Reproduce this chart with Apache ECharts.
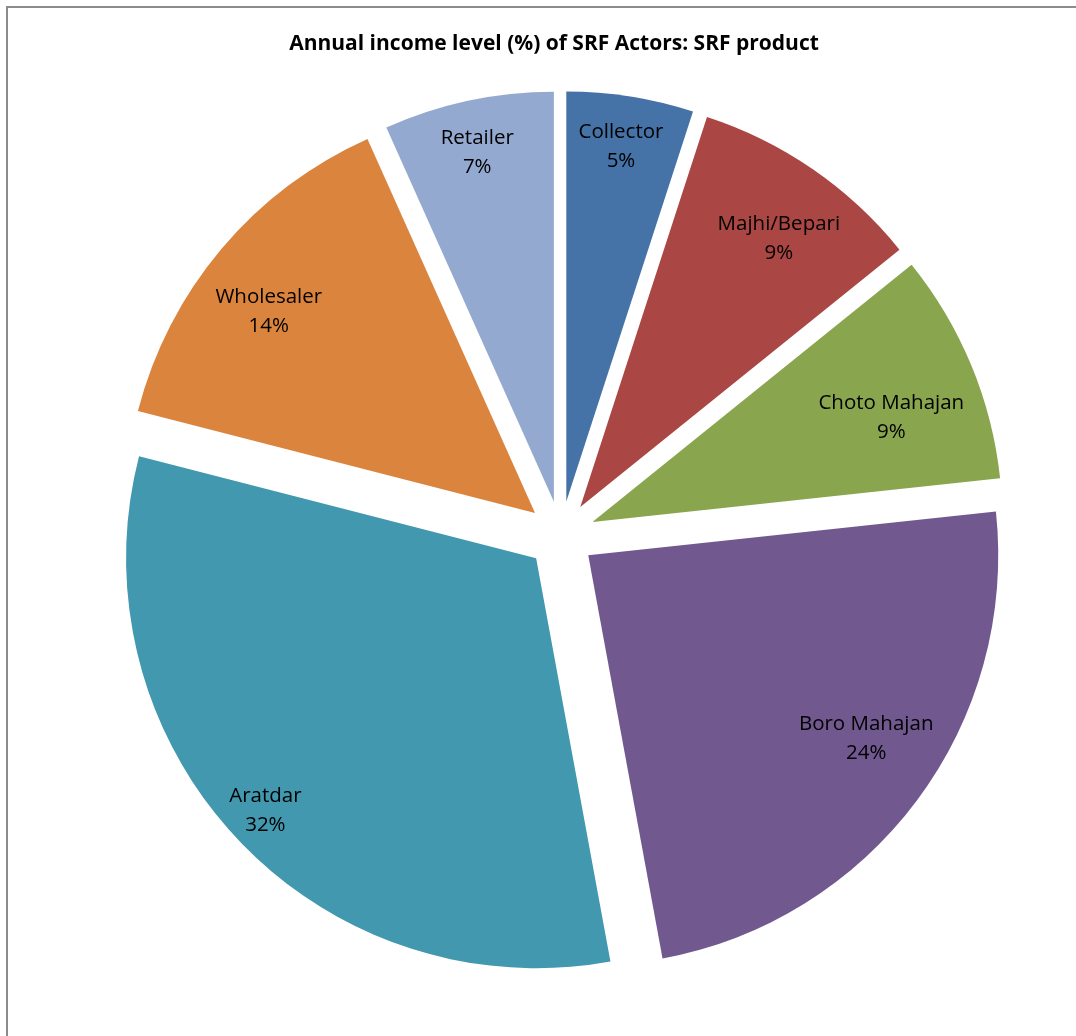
<!DOCTYPE html>
<html><head><meta charset="utf-8">
<script src="https://cdn.jsdelivr.net/npm/echarts@6/dist/echarts.min.js"></script>
<style>html,body{margin:0;padding:0;background:#fff}#c{width:1076px;height:1036px}</style>
</head><body><div id="c"></div>
<script>
const categories = ['Collector','Majhi/Bepari','Choto Mahajan','Boro Mahajan','Aratdar','Wholesaler','Retailer'];
const values = [5.0, 9.2, 9.1, 23.8, 31.9, 14.3, 6.7];
const colors = ['#4572A7','#AA4643','#89A54E','#71588F','#4198AF','#DB843D','#93A9CF'];
const titleText = 'Annual income level (%) of SRF Actors: SRF product';

const chart = echarts.init(document.getElementById('c'), null, {renderer:'canvas'});
// Excel "best fit" label placement differs slightly per slice
const labelShift = {
  'Collector':[1,-16], 'Majhi/Bepari':[4,14], 'Choto Mahajan':[-18,27], 'Boro Mahajan':[3,-22],
  'Aratdar':[-20,18], 'Wholesaler':[-4,20], 'Retailer':[-5,-14]
};
const mk = (withColor) => categories.map((n,i)=>{
  const item = {name:n, value:values[i], selected:true,
    itemStyle:{color: withColor ? colors[i] : 'rgba(0,0,0,0)', borderWidth:0}};
  if(!withColor){ item.label = {offset: labelShift[n]}; item.select = {label:{offset: labelShift[n]}}; }
  return item;
});
const common = {
  type:'pie', center:[561,535], startAngle:90, clockwise:true,
  selectedMode:'multiple', selectedOffset:34, animation:false,
  emphasis:{disabled:true}, percentPrecision:0, labelLine:{show:false}
};
chart.setOption({
  animation:false,
  title:{text:titleText, left:549, top:29, textAlign:'center',
    textStyle:{fontFamily:'Open Sans', fontWeight:'bold', fontSize:21, color:'#000'}},
  graphic:[{type:'rect', shape:{x:7,y:7,width:1200,height:1200}, style:{fill:'none', stroke:'#8c8c8c', lineWidth:2}, silent:true}],
  series:[
    Object.assign({}, common, {
      radius:[0,410], data:mk(true), label:{show:false},
      select:{itemStyle:{borderWidth:0}, label:{show:false}}
    }),
    Object.assign({}, common, {
      radius:[270,410], data:mk(false), silent:true,
      label:{show:true, position:'inside', formatter:'{b}\n{d}%', color:'#000',
        fontFamily:'Open Sans', fontSize:20.5, lineHeight:29},
      select:{itemStyle:{borderWidth:0, color:'rgba(0,0,0,0)'}, label:{show:true,color:'#000'}}
    })
  ]
});
</script></body></html>
